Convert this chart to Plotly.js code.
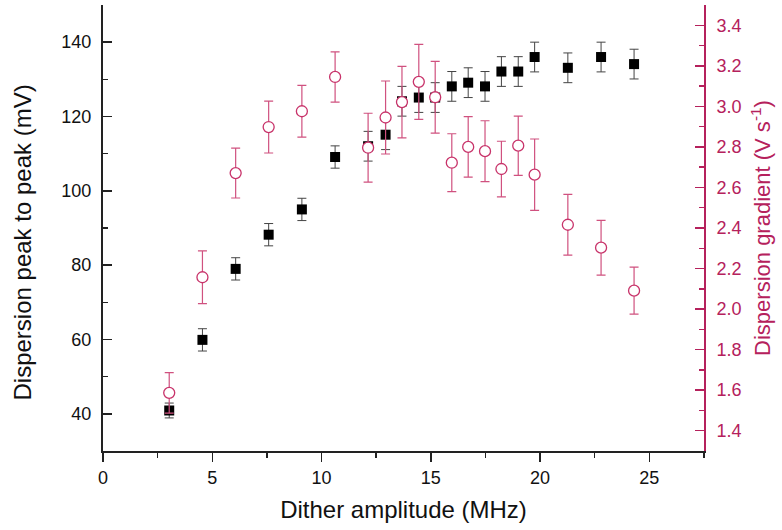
<!DOCTYPE html>
<html>
<head>
<meta charset="utf-8">
<script src="https://cdn.plot.ly/plotly-3.0.1.min.js"></script>
<style>
html,body{margin:0;padding:0;background:#fff;}
#chart{width:782px;height:530px;}
</style>
</head>
<body>
<div id="chart"></div>
<script>
// Dither amplitude (MHz)
const ditherAmp = [3.03, 4.55, 6.07, 7.58, 9.1, 10.62, 12.13, 12.93, 13.68, 14.45, 15.2, 15.96, 16.71, 17.48, 18.23, 19.0, 19.75, 21.27, 22.79, 24.3];
// Dispersion peak to peak (mV)
const peakToPeak = [40.9, 59.9, 79.0, 88.2, 95.0, 109.1, 112.0, 115.1, 124.1, 125.1, 125.1, 128.1, 129.1, 128.1, 132.1, 132.1, 136.0, 133.1, 136.0, 134.1];
const peakToPeakErr = [2, 3, 3, 3, 3, 3, 4, 4, 4, 4, 4, 4, 4, 4, 4, 4, 4, 4, 4, 4];
// Dispersion gradient (V s^-1)
const gradient = [1.587, 2.157, 2.671, 2.898, 2.976, 3.145, 2.796, 2.945, 3.021, 3.121, 3.045, 2.722, 2.80, 2.779, 2.691, 2.806, 2.663, 2.416, 2.303, 2.091];
const gradientErr = [0.10, 0.13, 0.123, 0.128, 0.128, 0.124, 0.17, 0.18, 0.176, 0.185, 0.177, 0.143, 0.149, 0.15, 0.137, 0.146, 0.176, 0.15, 0.135, 0.116];

const xTickVals = [0, 5, 10, 15, 20, 25];
const leftTickVals = [40, 60, 80, 100, 120, 140];
const rightTickVals = [1.4, 1.6, 1.8, 2.0, 2.2, 2.4, 2.6, 2.8, 3.0, 3.2, 3.4];
const rightTickText = rightTickVals.map(v => v.toFixed(1));

const leftTitle = 'Dispersion peak to peak (mV)';
const rightTitle = 'Dispersion gradient (V s<sup>-1</sup>)';
const xTitle = 'Dither amplitude (MHz)';

const crimson = '#B5215C';
const font = 'Liberation Sans, Arial, sans-serif';

const traces = [
  {
    x: ditherAmp, y: peakToPeak, type: 'scatter', mode: 'markers',
    xaxis: 'x', yaxis: 'y',
    marker: {symbol: 'square', size: 10, color: '#000', line: {width: 0}},
    error_y: {type: 'data', array: peakToPeakErr, visible: true, color: '#444', thickness: 1, width: 4.5},
    showlegend: false, hoverinfo: 'skip'
  },
  {
    x: ditherAmp, y: gradient, type: 'scatter', mode: 'markers',
    xaxis: 'x', yaxis: 'y2',
    marker: {symbol: 'circle', size: 11, color: '#fff', line: {width: 1.3, color: '#C8336A'}},
    error_y: {type: 'data', array: gradientErr, visible: true, color: '#D0517F', thickness: 1.2, width: 4.5},
    showlegend: false, hoverinfo: 'skip'
  }
];

const layout = {
  width: 782, height: 530,
  margin: {l: 103, r: 78, t: 5, b: 79, pad: 0},
  paper_bgcolor: '#fff', plot_bgcolor: '#fff',
  font: {family: font, size: 18, color: '#111'},
  xaxis: {
    range: [0, 27.5], tickvals: xTickVals, ticks: 'outside', ticklen: 9, tickwidth: 1.5, tickcolor: '#222',
    minor: {dtick: 2.5, tick0: 0, ticks: 'outside', ticklen: 5, tickwidth: 1.5, tickcolor: '#222'},
    showline: true, linecolor: '#222', linewidth: 2, showgrid: false, zeroline: false,
    tickfont: {family: font, size: 18, color: '#111'},
    title: {text: xTitle, font: {family: font, size: 24, color: '#111'}, standoff: 15}
  },
  xaxis2: {
    overlaying: 'x', side: 'top', anchor: 'y', range: [0, 27.5], tickvals: xTickVals,
    ticks: 'inside', ticklen: 9, tickwidth: 1.5, tickcolor: '#222', showticklabels: false,
    minor: {dtick: 2.5, tick0: 0, ticks: 'inside', ticklen: 5, tickwidth: 1.5, tickcolor: '#222'},
    showline: true, linecolor: '#222', linewidth: 2, showgrid: false, zeroline: false
  },
  yaxis: {
    range: [30, 150], tickvals: leftTickVals, ticks: 'inside', ticklen: 9, tickwidth: 1.5, tickcolor: '#222',
    minor: {dtick: 10, tick0: 0, ticks: 'inside', ticklen: 5, tickwidth: 1.5, tickcolor: '#222'},
    showline: true, linecolor: '#222', linewidth: 2, showgrid: false, zeroline: false,
    ticklabelstandoff: 6,
    tickfont: {family: font, size: 18, color: '#111'}
  },
  yaxis2: {
    overlaying: 'y', side: 'right', anchor: 'x', range: [1.3, 3.5],
    tickvals: rightTickVals, ticktext: rightTickText,
    ticks: 'inside', ticklen: 9, tickwidth: 1.5, tickcolor: crimson,
    minor: {dtick: 0.1, tick0: 0, ticks: 'inside', ticklen: 5, tickwidth: 1.5, tickcolor: crimson},
    showline: true, linecolor: crimson, linewidth: 2, showgrid: false, zeroline: false,
    ticklabelstandoff: 7,
    tickfont: {family: font, size: 18, color: crimson},
    title: {text: rightTitle, font: {family: font, size: 22, color: crimson}, standoff: 14}
  },
  annotations: [
    {
      text: leftTitle, xref: 'paper', yref: 'paper', x: 0, y: 0.4675,
      xanchor: 'center', yanchor: 'middle', xshift: -81, textangle: -90, showarrow: false,
      font: {family: font, size: 24, color: '#111'}
    }
  ]
};

Plotly.newPlot('chart', traces, layout, {staticPlot: true, displayModeBar: false});
</script>
</body>
</html>
